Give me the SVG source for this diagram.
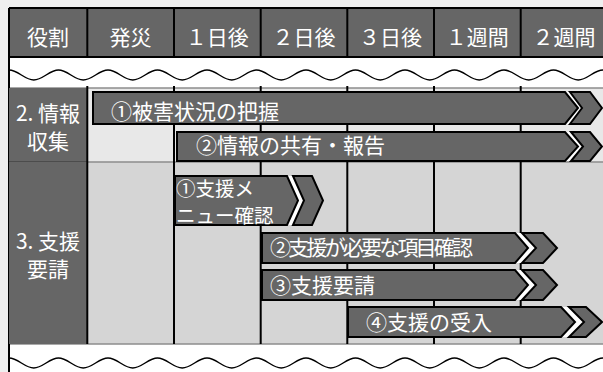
<svg xmlns="http://www.w3.org/2000/svg" xmlns:xlink="http://www.w3.org/1999/xlink" width="603" height="372" viewBox="0 0 603 372">
<style>
.t{font-family:"Noto Sans CJK JP","Noto Sans",sans-serif;font-size:21px;fill:#fff}
.s{font-size:19.5px}
.m{text-anchor:middle}
.dk{fill:#666}
.ar{fill:#666;stroke:#000;stroke-width:2;stroke-linejoin:miter}
.gap{fill:#fff}
.vl{stroke:#000;stroke-width:2}
.hl{stroke:#8c8c8c;stroke-width:1.5}
.wv{fill:none;stroke:#000;stroke-width:1.4}
</style>
<defs>
<path id="wave" class="wv" d="M9,70c9,0 15.75,10 24.75,10s15.75,-10 24.75,-10s15.75,10 24.75,10s15.75,-10 24.75,-10s15.75,10 24.75,10s15.75,-10 24.75,-10s15.75,10 24.75,10s15.75,-10 24.75,-10s15.75,10 24.75,10s15.75,-10 24.75,-10s15.75,10 24.75,10s15.75,-10 24.75,-10s15.75,10 24.75,10s15.75,-10 24.75,-10s15.75,10 24.75,10s15.75,-10 24.75,-10s15.75,10 24.75,10s15.75,-10 24.75,-10s15.75,10 24.75,10s15.75,-10 24.75,-10s15.75,10 24.75,10s15.75,-10 24.75,-10s15.75,10 24.75,10s15.75,-10 24.75,-10"/>
</defs>
<rect width="603" height="372" fill="#efefef"/>
<!-- backgrounds -->
<rect x="9" y="9" width="600" height="48" class="dk"/>
<rect x="9" y="57" width="600" height="31" fill="#fff"/>
<rect x="87" y="88" width="520" height="74" fill="#e8e8e8"/>
<rect x="87" y="162" width="520" height="182" fill="#d5d5d5"/>
<rect x="9" y="344" width="600" height="30" fill="#fff"/>
<!-- grid -->
<g id="grid">
<line class="hl" x1="9" y1="88" x2="603" y2="88"/>
<line class="hl" x1="9" y1="162" x2="603" y2="162"/>
<line class="hl" x1="9" y1="344" x2="603" y2="344"/>
<line class="vl" x1="9" y1="8" x2="603" y2="8"/>
<line class="vl" x1="9" y1="57" x2="603" y2="57"/>
<line class="vl" x1="9" y1="8" x2="9" y2="372"/>
<g class="vl">
<line x1="87.3" y1="8" x2="87.3" y2="57"/>
<line x1="174" y1="8" x2="174" y2="57"/><line x1="174" y1="86" x2="174" y2="344"/>
<line x1="260.7" y1="8" x2="260.7" y2="57"/><line x1="260.7" y1="86" x2="260.7" y2="344"/>
<line x1="347.3" y1="8" x2="347.3" y2="57"/><line x1="347.3" y1="86" x2="347.3" y2="344"/>
<line x1="434" y1="8" x2="434" y2="57"/><line x1="434" y1="86" x2="434" y2="344"/>
<line x1="520.7" y1="8" x2="520.7" y2="57"/><line x1="520.7" y1="86" x2="520.7" y2="344"/>
</g>
<use xlink:href="#wave"/>
<use xlink:href="#wave" transform="translate(0,288)"/>
</g>
<!-- header cells -->
<g id="h-role"><text class="t m" x="48" y="45">役割</text></g>
<g id="h-hassai"><text class="t m" x="130.6" y="45">発災</text></g>
<g id="h-1d"><text class="t m" x="217.3" y="45">１日後</text></g>
<g id="h-2d"><text class="t m" x="304" y="45">２日後</text></g>
<g id="h-3d"><text class="t m" x="390.6" y="45">３日後</text></g>
<g id="h-1w"><text class="t m" x="477.3" y="45">１週間</text></g>
<g id="h-2w"><text class="t m" x="564" y="45">２週間</text></g>
<!-- left cells -->
<g id="sec2">
<rect x="9" y="88" width="78" height="74" class="dk"/>
<line x1="9" y1="162" x2="87" y2="162" stroke="#444" stroke-width="1.5"/>
<line class="vl" x1="87.3" y1="86" x2="87.3" y2="162"/>
<text class="t m" x="48" y="120.5">2. 情報</text>
<text class="t m" x="48" y="149">収集</text>
</g>
<g id="sec3">
<rect x="9" y="162" width="78" height="182" class="dk"/>
<line class="vl" x1="87.3" y1="162" x2="87.3" y2="344"/>
<text class="t m" x="48" y="249">3. 支援</text>
<text class="t m" x="48" y="276.5">要請</text>
</g>
<!-- arrows -->
<g id="a2-1">
<polygon class="gap" points="565,92 570,92 582,108 570,124 565,124 578,108"/>
<polygon class="ar" points="93,92 565,92 578,108 565,124 93,124"/>
<polygon class="ar" points="570,92 590,92 602,108 590,124 570,124 582,108"/>
<text class="t" x="111" y="118.8">①被害状況の把握</text>
</g>
<g id="a2-2">
<polygon class="gap" points="565,132 571,132 583,146.5 571,161 565,161 578,146.5"/>
<polygon class="ar" points="177,132 565,132 578,146.5 565,161 177,161"/>
<polygon class="ar" points="571,132 590,132 602,146.5 590,161 571,161 583,146.5"/>
<text class="t" x="196" y="153">②情報の共有・報告</text>
</g>
<g id="a3-1">
<polygon class="gap" points="287,176 293,176 304,200.5 293,225 287,225 298,200.5"/>
<polygon class="ar" points="175,176 287,176 298,200.5 287,225 175,225"/>
<polygon class="ar" points="293,176 312,176 323,200.5 312,225 293,225 304,200.5"/>
<text class="t s" x="176" y="195.5">①支援メ</text>
<text class="t s" x="176" y="222.5">ニュー確認</text>
</g>
<g id="a3-2">
<polygon class="gap" points="515,233 522,233 536,248 522,263 515,263 528,248"/>
<polygon class="ar" points="262,233 515,233 528,248 515,263 262,263"/>
<polygon class="ar" points="522,233 543,233 557,248 543,263 522,263 536,248"/>
<text class="t" x="270" y="254.5" textLength="203" lengthAdjust="spacing">②支援が必要な項目確認</text>
</g>
<g id="a3-3">
<polygon class="gap" points="515,270 522,270 536,285 522,300 515,300 528,285"/>
<polygon class="ar" points="262,270 515,270 528,285 515,300 262,300"/>
<polygon class="ar" points="522,270 543,270 557,285 543,300 522,300 536,285"/>
<text class="t" x="270" y="293">③支援要請</text>
</g>
<g id="a3-4">
<polygon class="gap" points="561,307 569,307 584,322 569,337 561,337 575,322"/>
<polygon class="ar" points="348,307 561,307 575,322 561,337 348,337"/>
<polygon class="ar" points="569,307 586,307 602,322 586,337 569,337 584,322"/>
<text class="t" x="366" y="329.7">④支援の受入</text>
</g>
<g id="connectors"/>
</svg>
